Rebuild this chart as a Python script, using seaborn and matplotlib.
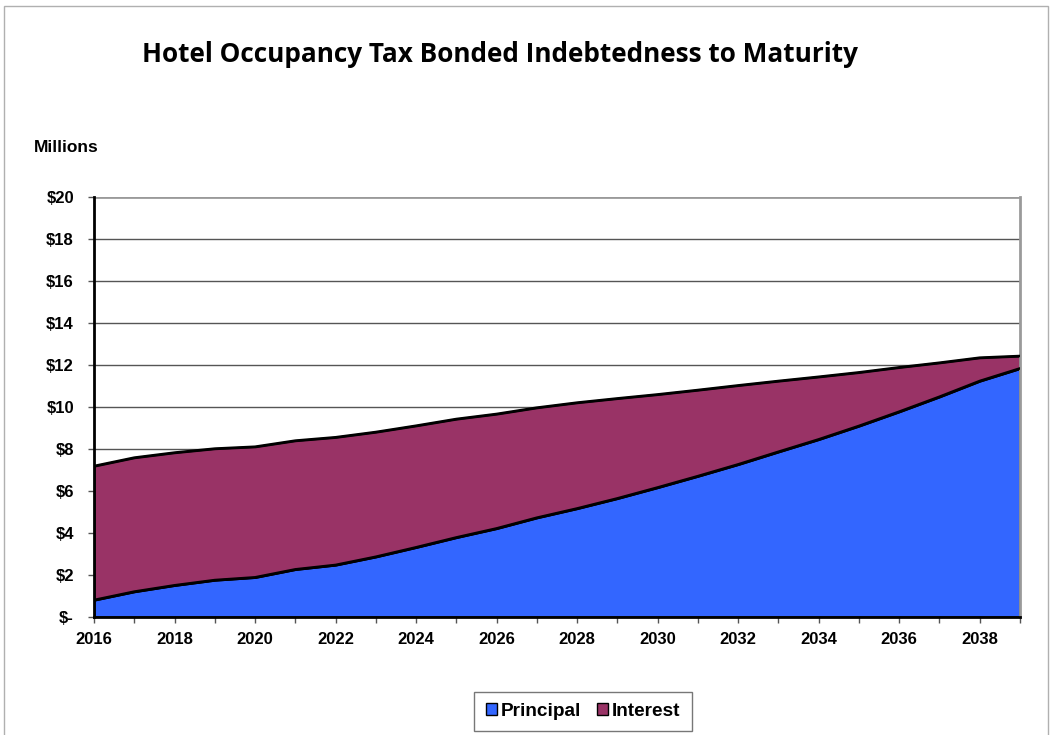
import matplotlib
matplotlib.use("Agg")
import matplotlib.pyplot as plt
import matplotlib.patches as mpatches
from matplotlib.ticker import MultipleLocator, FuncFormatter
import numpy as np
import pandas as pd
import seaborn as sns

years = list(range(2016, 2040))
principal = [0.81, 1.21, 1.51, 1.76, 1.89, 2.27, 2.48, 2.87, 3.32, 3.79, 4.22, 4.73,
             5.17, 5.65, 6.17, 6.71, 7.27, 7.87, 8.46, 9.10, 9.78, 10.49, 11.24, 11.84]
total = [7.19, 7.59, 7.83, 8.02, 8.11, 8.40, 8.56, 8.81, 9.11, 9.43, 9.67, 9.97,
         10.21, 10.41, 10.60, 10.81, 11.03, 11.24, 11.44, 11.65, 11.89, 12.11, 12.35, 12.43]
interest = [t - p for t, p in zip(total, principal)]
series_names = ["Principal", "Interest"]
colors = ["#3366FF", "#993366"]
y_ticks = list(range(0, 21, 2))
x_labels = list(range(2016, 2039, 2))

sns.set_theme(style="white")
plt.rcParams['font.family'] = ['Liberation Sans', 'DejaVu Sans']
plt.rcParams['text.color'] = 'black'
plt.rcParams['xtick.color'] = 'black'
plt.rcParams['ytick.color'] = 'black'

df = pd.DataFrame({"year": years, "Principal": principal, "Interest": interest})
df["Total"] = df["Principal"] + df["Interest"]

fig = plt.figure(figsize=(10.53, 7.35), dpi=100)
ax = fig.add_axes([94/1053, 1-617/735, (1020-94)/1053, (617-197)/735])

# grid lines
for yv in y_ticks[1:]:
    ax.axhline(yv, color="#9a9a9a" if yv == 20 else "#555555", lw=1.0 if yv != 20 else 2.0, zorder=0)

ax.fill_between(df["year"], 0, df["Principal"], facecolor=colors[0], edgecolor="black", lw=1.6, zorder=2)
ax.fill_between(df["year"], df["Principal"], df["Total"], facecolor=colors[1], edgecolor="black", lw=1.6, zorder=2)
sns.lineplot(data=df, x="year", y="Total", color="black", lw=1.8, ax=ax, zorder=3)
sns.lineplot(data=df, x="year", y="Principal", color="black", lw=1.8, ax=ax, zorder=3)

ax.set_xlim(2016, 2039)
ax.set_ylim(0, 20)
ax.set_xlabel("")
ax.set_ylabel("")
ax.set_yticks(y_ticks)
ax.yaxis.set_major_formatter(FuncFormatter(lambda v, p: "$-" if v == 0 else f"${int(v)}"))
ax.set_xticks(x_labels)
ax.set_xticklabels([str(x) for x in x_labels])
ax.xaxis.set_minor_locator(MultipleLocator(1))
ax.tick_params(axis="both", which="both", direction="out", length=4.5, width=1, color="#555555",
               labelsize=12, bottom=True, left=True, labelcolor="black")
ax.tick_params(axis="y", pad=10)
ax.tick_params(axis="x", which="both", pad=6)
for lbl in ax.get_xticklabels() + ax.get_yticklabels():
    lbl.set_fontweight("bold")

for s in ["left", "bottom"]:
    ax.spines[s].set_color("black")
    ax.spines[s].set_linewidth(2)
ax.spines["top"].set_visible(False)
ax.spines["right"].set_color("#9a9a9a")
ax.spines["right"].set_linewidth(2)

fig.text(500/1053, 1-55/735, "Hotel Occupancy Tax Bonded Indebtedness to Maturity",
         ha="center", va="center", fontsize=18.8, fontweight="bold", color="black",
         family=["Open Sans", "DejaVu Sans"])
fig.text(34/1053, 1-148/735, "Millions", ha="left", va="center", fontsize=12.5, fontweight="bold", color="black")

handles = [mpatches.Patch(facecolor=c, edgecolor="black", label=n) for c, n in zip(colors, series_names)]
leg = fig.legend(handles=handles, loc="center", bbox_to_anchor=(583/1053, 1-711.5/735), ncol=2,
                 frameon=True, fancybox=False, edgecolor="#555555", handlelength=0.6, handleheight=0.6,
                 handletextpad=0.2, columnspacing=0.8, borderpad=0.6,
                 prop={"weight": "bold", "size": 13.7})
leg.get_frame().set_linewidth(1.0)
for t in leg.get_texts():
    t.set_color("black")

# outer chart border
fig.patches.append(mpatches.Rectangle((4/1053, -0.05), (1048-4)/1053, 1.05 - 6/735, transform=fig.transFigure,
                                      fill=False, edgecolor="#b0b0b0", lw=1.0))

fig.savefig("out.png", dpi=100)
